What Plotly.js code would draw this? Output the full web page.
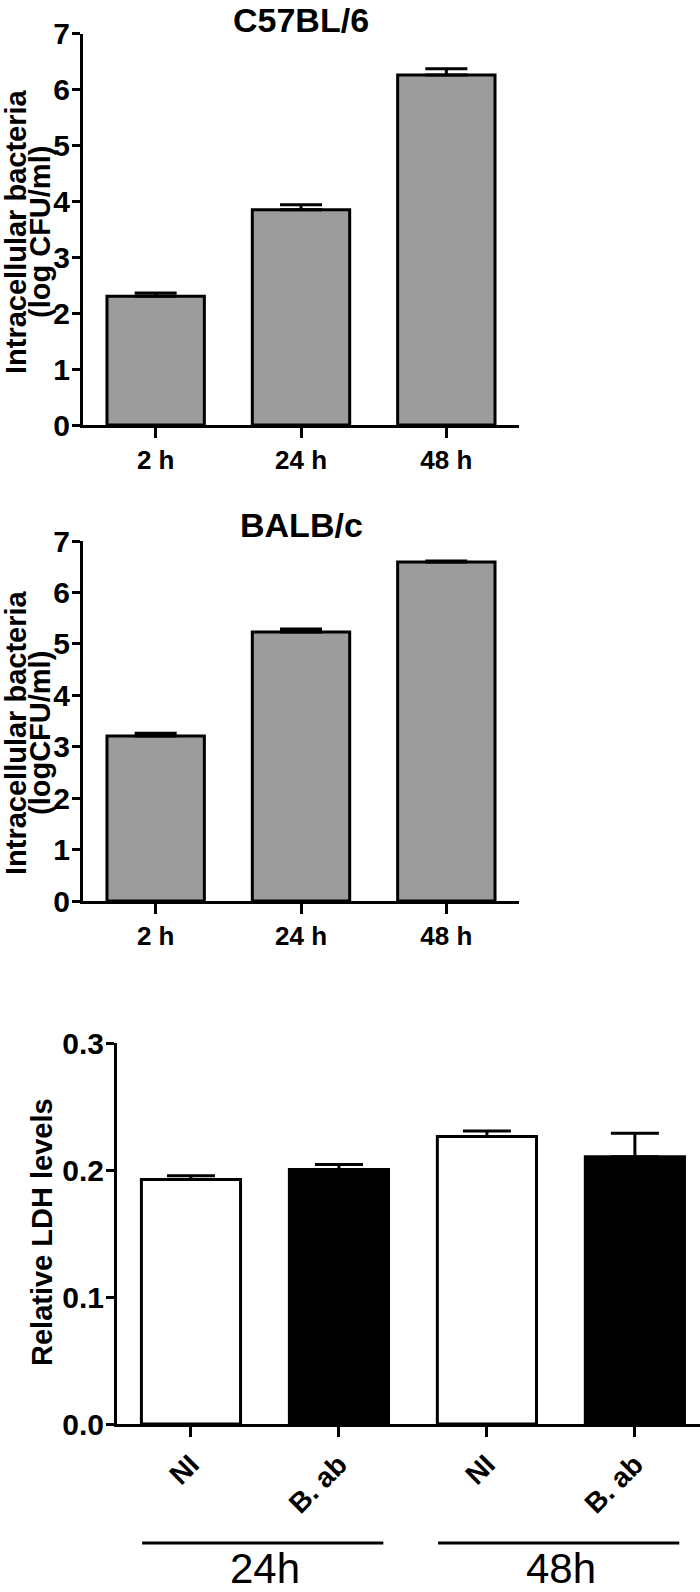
<!DOCTYPE html>
<html><head>
<meta charset="utf-8">
<script src="https://cdn.plot.ly/plotly-3.0.1.min.js"></script>
<style>html,body{margin:0;padding:0;background:#fff}</style>
</head><body>
<div id="plot" style="width:700px;height:1592px"></div>
<script>
// ---- data ----
const timeCats = ['2 h', '24 h', '48 h'];
const c57Mean = [2.30, 3.85, 6.26];
const c57Err = [0.06, 0.09, 0.11];
const balbMean = [3.21, 5.23, 6.59];
const balbErr = [0.05, 0.06, 0.02];
const ldhLabels = ['NI', 'B. ab', 'NI', 'B. ab'];
const ldhGroups = ['24h', '24h', '48h', '48h'];
const ldhMean = [0.1925, 0.2004, 0.2264, 0.2104];
const ldhErr = [0.003, 0.004, 0.0043, 0.0185];
const ldhColors = ['#ffffff', '#000000', '#ffffff', '#000000'];
const panelTitles = ['C57BL/6', 'BALB/c'];
const yTitles = [['Intracellular bacteria', '(log CFU/ml)'], ['Intracellular bacteria', '(logCFU/ml)'], ['Relative LDH levels']];

// ---- layout helpers ----
const W = 700, H = 1592;
const px = x => x / W;
const py = y => 1 - y / H;
const NARROW = 'Liberation Sans Narrow, Arial Narrow, Liberation Sans, Arial, sans-serif';
const WIDE = 'Liberation Sans, Arial, Helvetica, sans-serif';
const nb = (s) => ({family: NARROW, size: s, color: '#000', weight: 'bold'});
const wb = (s) => ({family: WIDE, size: s, color: '#000', weight: 'bold'});
const gray = '#9c9c9c';

function barTrace(x, y, err, xa, ya, colors, capw) {
  return {
    type: 'bar', x: x, y: y, xaxis: xa, yaxis: ya,
    width: 0.67,
    marker: {color: colors, line: {color: '#000', width: 3}},
    error_y: {type: 'data', symmetric: false, array: err, arrayminus: err.map(() => 0),
              color: '#000', thickness: 3, width: capw, visible: true},
    hoverinfo: 'none', showlegend: false, cliponaxis: false
  };
}

const ldhX = ldhLabels.map((_, i) => i);
const traces = [
  barTrace(timeCats, c57Mean, c57Err, 'x', 'y', gray, 21),
  barTrace(timeCats, balbMean, balbErr, 'x2', 'y2', gray, 21),
  barTrace(ldhX, ldhMean, ldhErr, 'x3', 'y3', ldhColors, 24)
];

const commonX = {
  showline: true, linecolor: '#000', linewidth: 3, mirror: false,
  ticks: 'outside', ticklen: 10, tickwidth: 3, tickcolor: '#000',
  showgrid: false, zeroline: false, tickfont: wb(26), fixedrange: true
};
const commonY = {
  showline: true, linecolor: '#000', linewidth: 3,
  ticks: 'outside', ticklen: 8, tickwidth: 3, tickcolor: '#000', ticklabelstandoff: -4,
  showgrid: false, zeroline: false, tickfont: wb(30), fixedrange: true
};

const topDom = [py(425), py(33.5)];
const midDom = [py(901), py(541)];
const botDom = [py(1424), py(1043)];
const xDom12 = [px(83), px(519)];
const xDom3 = [px(117), 1];

// group centres for the LDH panel
const groupNames = [...new Set(ldhGroups)];
const groupCenters = groupNames.map(g => {
  const idx = ldhX.filter(i => ldhGroups[i] === g);
  return (Math.min(...idx) + Math.max(...idx)) / 2;
});

const shapes = groupCenters.map(c => ({
  type: 'line', xref: 'x3', yref: 'paper', x0: c - 0.83, x1: c + 0.80,
  y0: py(1543), y1: py(1543), line: {color: '#000', width: 3}
}));

const annotations = [];
const xMid12 = (xDom12[0] + xDom12[1]) / 2;
annotations.push({text: panelTitles[0], xref: 'paper', yref: 'paper', x: xMid12, y: py(20),
  showarrow: false, font: nb(34), xanchor: 'center', yanchor: 'middle'});
annotations.push({text: panelTitles[1], xref: 'paper', yref: 'paper', x: xMid12, y: py(525),
  showarrow: false, font: nb(34), xanchor: 'center', yanchor: 'middle'});
const yTitleCenters = [py(232), py(733), py(1232)];
yTitles.forEach((lines, k) => {
  const xs = lines.length === 2 ? [16, 40] : [42];
  lines.forEach((t, j) => {
    annotations.push({text: t, xref: 'paper', yref: 'paper', x: px(xs[j]), y: yTitleCenters[k],
      textangle: -90, showarrow: false, font: wb(29), xanchor: 'center', yanchor: 'middle'});
  });
});
groupNames.forEach((g, i) => {
  annotations.push({text: g, xref: 'x3', yref: 'paper', x: groupCenters[i], y: py(1568),
    showarrow: false, font: {family: NARROW, size: 42, color: '#000'}, xanchor: 'center', yanchor: 'middle'});
});

const layout = {
  width: W, height: H,
  margin: {l: 0, r: 0, t: 0, b: 0, pad: 0},
  paper_bgcolor: '#fff', plot_bgcolor: 'rgba(0,0,0,0)',
  showlegend: false,
  xaxis: Object.assign({}, commonX, {domain: xDom12, anchor: 'y', type: 'category', range: [-0.5, 2.5]}),
  yaxis: Object.assign({}, commonY, {domain: topDom, anchor: 'x', range: [0, 7], dtick: 1, tick0: 0}),
  xaxis2: Object.assign({}, commonX, {domain: xDom12, anchor: 'y2', type: 'category', range: [-0.5, 2.5]}),
  yaxis2: Object.assign({}, commonY, {domain: midDom, anchor: 'x2', range: [0, 7], dtick: 1, tick0: 0}),
  xaxis3: Object.assign({}, commonX, {domain: xDom3, anchor: 'y3', range: [-0.5, 3.44],
    tickmode: 'array', tickvals: ldhX, ticktext: ldhLabels, tickangle: -45, tickfont: wb(28)}),
  yaxis3: Object.assign({}, commonY, {domain: botDom, anchor: 'x3', range: [0, 0.3], dtick: 0.1, tick0: 0, tickformat: '.1f'}),
  shapes: shapes,
  annotations: annotations
};

Plotly.newPlot('plot', traces, layout, {displayModeBar: false, staticPlot: true});
</script>
</body></html>
